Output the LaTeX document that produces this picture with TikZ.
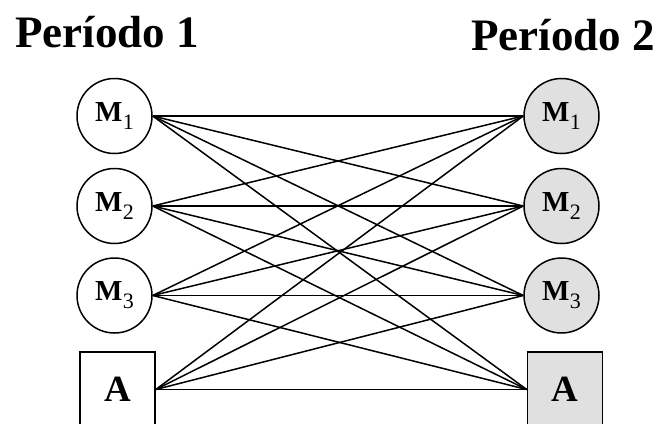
\documentclass[tikz,border=0pt]{standalone}
\usepackage{fontspec}
\setmainfont{Liberation Serif}
\newcommand{\mlab}[1]{{\fontsize{29}{32}\selectfont\bfseries M}\kern0.5pt\raisebox{-8pt}{\fontsize{22}{24}\selectfont #1}}
\begin{document}
\begin{tikzpicture}[x=1pt,y=-1pt,
  mnode/.style={circle,draw,line width=1.5pt,minimum size=75pt,inner sep=0pt},
  anode/.style={rectangle,draw,line width=1.5pt,minimum size=75pt,inner sep=0pt,font=\fontsize{37}{40}\selectfont\bfseries},
  gray/.style={fill=black!12},
  title/.style={font=\fontsize{45}{50}\selectfont\bfseries,inner sep=0pt},
  link/.style={line width=1.5pt}]
\useasboundingbox (0,0) rectangle (658,423);
\node[title,anchor=base west] (t1) at (15,47) {Período 1};
\node[title,anchor=base east] (t2) at (655,50) {Período 2};
\node[mnode] (l1) at (114.5,116) {\mlab{1}};
\node[mnode] (l2) at (114.5,206) {\mlab{2}};
\node[mnode] (l3) at (114.5,295.5) {\mlab{3}};
\node[anode] (la) at (117.5,389.5) {A};
\node[mnode,gray] (r1) at (561.5,116) {\mlab{1}};
\node[mnode,gray] (r2) at (561.5,206) {\mlab{2}};
\node[mnode,gray] (r3) at (561.5,295.5) {\mlab{3}};
\node[anode,gray] (ra) at (565,389.5) {A};
\foreach \a in {l1,l2,l3,la}
  \foreach \b in {r1,r2,r3,ra}
    \draw[link] (\a.east) -- (\b.west);
\end{tikzpicture}
\end{document}
